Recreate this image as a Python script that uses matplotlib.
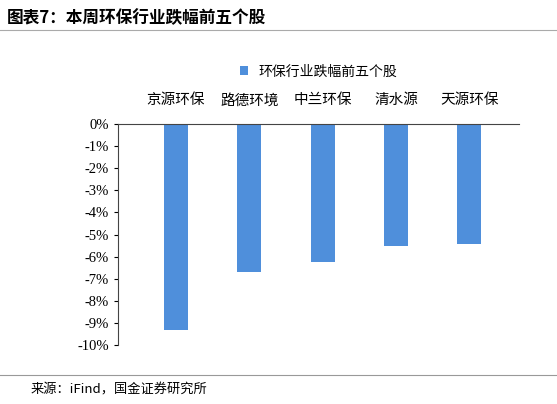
import matplotlib.pyplot as plt
import numpy as np

plt.rcParams['font.family'] = ['Noto Sans CJK SC', 'DejaVu Sans']

stocks = ['京源环保', '路德环境', '中兰环保', '清水源', '天源环保']
changes = [-9.32, -6.70, -6.24, -5.52, -5.45]
yticks = list(range(0, -11, -1))

fig = plt.figure(figsize=(5.57, 4.04), dpi=100)
ax = fig.add_axes([0.212, 0.146, 0.72, 0.547])

x = np.arange(len(stocks))
ax.bar(x, changes, width=0.33, color='#4F8FDB', label='环保行业跌幅前五个股')
ax.set_xlim(-0.79, 4.68)
ax.set_ylim(-10, 0)
ax.set_yticks(yticks)
ax.set_yticklabels([f'{t}%' for t in yticks], fontsize=10.5, family=['Liberation Serif', 'DejaVu Serif'])
ax.xaxis.tick_top()
ax.set_xticks(x)
ax.set_xticklabels(stocks, fontsize=10.5)
ax.tick_params(axis='x', length=0, pad=12)
ax.tick_params(axis='y', length=3, direction='out')
for s in ['right', 'bottom']:
    ax.spines[s].set_visible(False)
ax.spines['top'].set_color('#444444')
ax.spines['left'].set_color('#444444')

ax.legend(loc='lower center', bbox_to_anchor=(0.5, 1.15), frameon=False, fontsize=10,
          handlelength=0.6, handleheight=0.6)

fig.text(0.012, 0.955, '图表7：本周环保行业跌幅前五个股', fontsize=12, fontweight='bold',
         style='italic', va='center')
fig.add_artist(plt.Line2D([0.0, 1.0], [0.925, 0.925], color='#AAAAAA', lw=0.8))
fig.add_artist(plt.Line2D([0.0, 1.0], [0.072, 0.072], color='#999999', lw=0.8))
fig.text(0.055, 0.035, '来源：iFind，国金证券研究所', fontsize=9.5, va='center')

fig.savefig('out.png', dpi=100)
